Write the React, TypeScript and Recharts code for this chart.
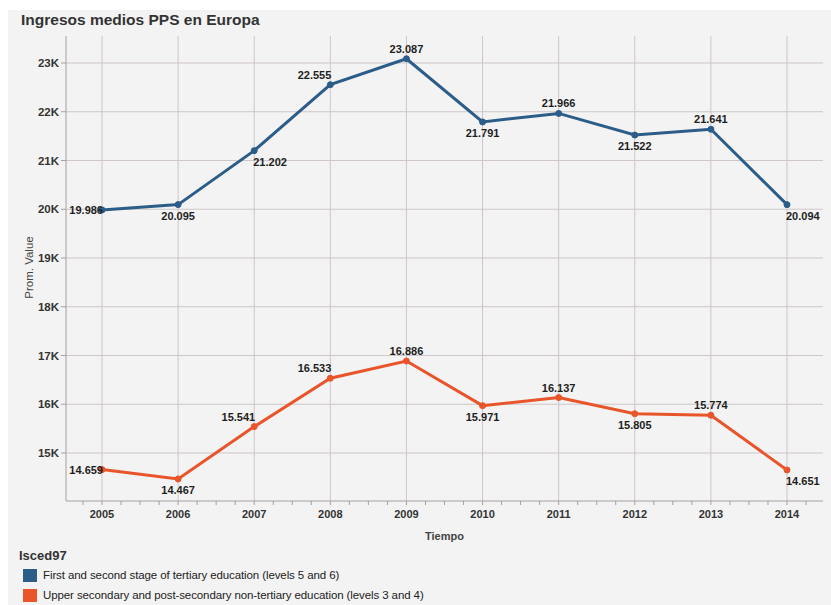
import React from 'react';
import {
  LineChart,
  Line,
  XAxis,
  YAxis,
  CartesianGrid,
} from 'recharts';

const years = [2005, 2006, 2007, 2008, 2009, 2010, 2011, 2012, 2013, 2014];
const tertiary = [19986, 20095, 21202, 22555, 23087, 21791, 21966, 21522, 21641, 20094];
const upperSecondary = [14659, 14467, 15541, 16533, 16886, 15971, 16137, 15805, 15774, 14651];
const yTicks = [15000, 16000, 17000, 18000, 19000, 20000, 21000, 22000, 23000];
const seriesNames = [
  'First and second stage of tertiary education (levels 5 and 6)',
  'Upper secondary and post-secondary non-tertiary education (levels 3 and 4)',
];

// where each value label sits relative to its point
const tertiaryPlacement = ['left', 'below', 'belowStart', 'aboveEnd', 'above', 'below', 'above', 'below', 'above', 'belowStart'];
const upperPlacement = ['left', 'below', 'aboveEnd', 'aboveEnd', 'above', 'below', 'above', 'below', 'above', 'belowStart'];

const BLUE = '#2c5c88';
const ORANGE = '#e9552b';
const GRID = '#cec6ca';
const AXIS = '#a79fa3';
const FONT = '"Liberation Sans", Arial, sans-serif';

const data = years.map((year, i) => ({ year, tertiary: tertiary[i], upper: upperSecondary[i] }));

// quarter-year minor ticks, labels only on whole years
const xTicks = [
  years[0] - 0.25,
  ...years.flatMap((y, i) => (i === years.length - 1 ? [y, y + 0.25] : [y, y + 0.25, y + 0.5, y + 0.75])),
];
const xDomain = [years[0] - 0.473, years[years.length - 1] + 0.473];
const yDomain = [14015, 23554];

const fmt = (v: number) => (v / 1000).toFixed(3);

const valueLabel = (placements: string[]) => (p: any) => {
  const x = p.viewBox?.x ?? p.x;
  const y = p.viewBox?.y ?? p.y;
  const mode = placements[p.index];
  let tx = x;
  let ty = y + 15;
  let anchor = 'middle';
  if (mode === 'left') {
    tx = x + 1;
    ty = y + 4;
    anchor = 'end';
  } else if (mode === 'belowStart') {
    tx = x - 1;
    anchor = 'start';
  } else if (mode === 'aboveEnd') {
    tx = x + 1;
    ty = y - 6;
    anchor = 'end';
  } else if (mode === 'above') {
    ty = y - 6;
  }
  return (
    <text
      key={`lbl-${p.index}`}
      x={tx}
      y={ty}
      textAnchor={anchor}
      fontSize={11}
      fontWeight="bold"
      fontFamily={FONT}
      fill="#1e1e1e"
    >
      {fmt(p.value)}
    </text>
  );
};

const YearTick = (props: any) => {
  const { x, y, payload } = props;
  if (!Number.isInteger(payload.value)) return <g />;
  return (
    <text x={x} y={y + 11} textAnchor="middle" fontSize={11} fontWeight="bold" fontFamily={FONT} fill="#333">
      {payload.value}
    </text>
  );
};

export default function App() {
  return (
    <div style={{ position: 'absolute', left: 0, top: 0, width: 831, height: 605, background: '#fff', fontFamily: FONT, overflow: 'hidden' }}>
      <div style={{ position: 'absolute', left: 8, top: 10, right: 0, bottom: 0, background: '#f3f3f3' }} />
      <div style={{ position: 'absolute', left: 21, top: 11, fontSize: 15.5, fontWeight: 'bold', color: '#333', lineHeight: '18px', whiteSpace: 'nowrap' }}>
        Ingresos medios PPS en Europa
      </div>
      <LineChart
        width={831}
        height={605}
        data={data}
        margin={{ top: 36, right: 8, bottom: 74, left: 0 }}
        style={{ position: 'absolute', left: 0, top: 0 }}
      >
        <CartesianGrid stroke={GRID} verticalValues={years} horizontalValues={yTicks} />
        <XAxis
          dataKey="year"
          type="number"
          domain={xDomain}
          allowDataOverflow
          ticks={xTicks}
          interval={0}
          height={30}
          tickSize={4}
          tickLine={{ stroke: AXIS }}
          axisLine={{ stroke: AXIS }}
          tick={<YearTick />}
          label={(p: any) => {
            const vb = p.viewBox;
            return (
              <text x={vb.x + vb.width / 2} y={vb.y + 39} textAnchor="middle" fontSize={11} fontWeight="bold" fontFamily={FONT} fill="#444">
                Tiempo
              </text>
            );
          }}
        />
        <XAxis xAxisId="top" orientation="top" type="number" domain={xDomain} allowDataOverflow height={0} tick={false} tickLine={false} axisLine={{ stroke: AXIS }} />
        <YAxis
          type="number"
          domain={yDomain}
          allowDataOverflow
          ticks={yTicks}
          interval={0}
          width={66}
          tickSize={5}
          tickMargin={2}
          tickLine={{ stroke: AXIS }}
          axisLine={{ stroke: AXIS }}
          tick={{ fontSize: 11.5, fontWeight: 'bold', fill: '#333', fontFamily: FONT }}
          tickFormatter={(v: number) => `${v / 1000}K`}
          label={(p: any) => {
            const vb = p.viewBox;
            const cx = 29;
            const cy = vb.y + vb.height / 2 - 1;
            return (
              <text x={cx} y={cy} transform={`rotate(-90 ${cx} ${cy})`} textAnchor="middle" dominantBaseline="central" fontSize={11.5} fontFamily={FONT} fill="#444">
                Prom. Value
              </text>
            );
          }}
        />
        <YAxis yAxisId="right" orientation="right" domain={yDomain} width={0} tick={false} tickLine={false} axisLine={{ stroke: AXIS }} />
        <Line
          type="linear"
          dataKey="tertiary"
          name={seriesNames[0]}
          stroke={BLUE}
          strokeWidth={3}
          dot={{ r: 3, fill: BLUE, stroke: BLUE, strokeWidth: 1 }}
          label={valueLabel(tertiaryPlacement)}
          isAnimationActive={false}
        />
        <Line
          type="linear"
          dataKey="upper"
          name={seriesNames[1]}
          stroke={ORANGE}
          strokeWidth={3}
          dot={{ r: 3, fill: ORANGE, stroke: ORANGE, strokeWidth: 1 }}
          label={valueLabel(upperPlacement)}
          isAnimationActive={false}
        />
      </LineChart>
      <div style={{ position: 'absolute', left: 19, top: 548, fontSize: 13, fontWeight: 'bold', color: '#333', lineHeight: '16px' }}>Isced97</div>
      {seriesNames.map((name, i) => (
        <div key={name} style={{ position: 'absolute', left: 23, top: 568 + i * 20, display: 'flex', alignItems: 'center', height: 14 }}>
          <div style={{ width: 14, height: 13, background: i === 0 ? BLUE : ORANGE }} />
          <span style={{ marginLeft: 6, fontSize: 11.5, color: '#222', whiteSpace: 'nowrap', letterSpacing: -0.1 }}>{name}</span>
        </div>
      ))}
    </div>
  );
}
